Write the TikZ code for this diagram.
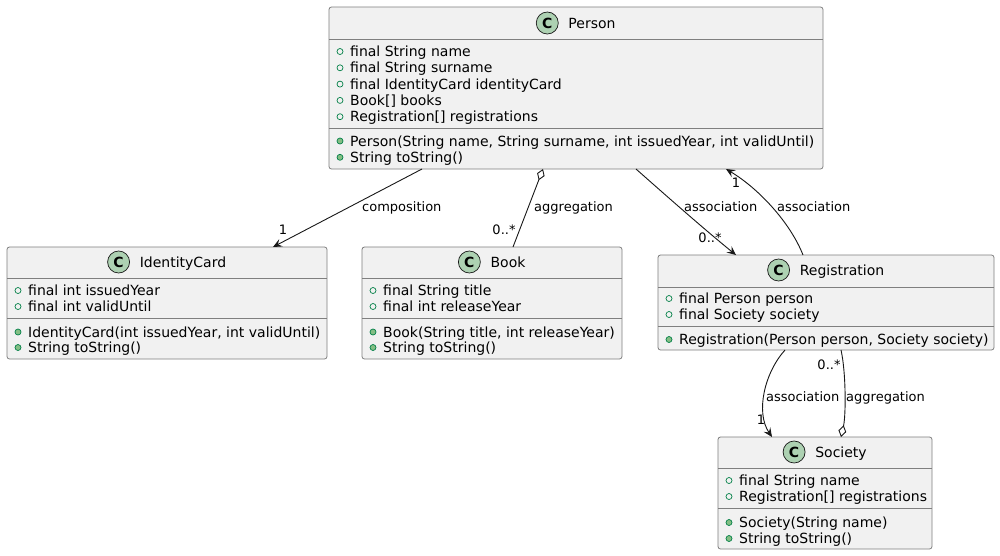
\documentclass[tikz,border=0pt]{standalone}
\usepackage{fontspec}
\setmainfont{DejaVu Sans}
\usetikzlibrary{arrows.meta}
\definecolor{boxfill}{HTML}{F1F1F1}
\definecolor{boxline}{HTML}{7F7F7F}
\definecolor{connline}{HTML}{181818}
\definecolor{spotfill}{HTML}{ADD1B2}
\definecolor{visline}{HTML}{038048}
\definecolor{visfill}{HTML}{84BE84}
\newcommand\myattr[4]{%
  \draw[attrvis] ({#2+11},{#3+0.5}) circle[radius=3pt];
  \node[mem] (#1) at ({#2+21},{#3+5.5}) {#4};}
\newcommand\mymeth[4]{%
  \draw[methvis] ({#2+11},{#3+0.5}) circle[radius=3pt];
  \node[mem] (#1) at ({#2+21},{#3+5.5}) {#4};}
\newcommand\mytitle[4]{%
  \node[titletext] (#1) at ({#2+16},{#3+5}) {#4};
  \node[spot] (#1C) at ([xshift=-21pt,yshift=5pt]#1.base west) {C};}
\begin{document}
\begin{tikzpicture}[x=1pt,y=-1pt,
  classbox/.style={draw=boxline, fill=boxfill, line width=0.8pt, rounded corners=2.5pt, anchor=north west, inner sep=0pt, outer sep=0pt},
  sepline/.style={draw=boxline, line width=0.8pt},
  titletext/.style={font=\fontsize{14}{16}\selectfont, anchor=base, inner sep=0pt},
  spot/.style={circle, draw=connline, fill=spotfill, line width=0.7pt, minimum size=22pt, inner sep=0pt, font=\fontsize{14}{16}\selectfont\bfseries},
  mem/.style={font=\fontsize{14}{16}\selectfont, anchor=base west, inner sep=0pt},
  attrvis/.style={draw=visline, line width=0.7pt},
  methvis/.style={draw=visline, fill=visfill, line width=0.7pt},
  conn/.style={draw=connline, line width=0.9pt},
  lbl/.style={font=\fontsize{13}{15}\selectfont, inner sep=0pt, text height=9.5pt, text depth=2.5pt},
  arr/.style={-{Stealth[length=9pt,width=8pt,inset=3.5pt]}},
  agg/.style={{Diamond[fill=white,length=12pt,width=8pt]}-}
]
\fill[white] (0,0) rectangle (1000,555);
\useasboundingbox (0,0) rectangle (1000,555);

% ---------- Person ----------
\node[classbox, minimum width=494pt, minimum height=162pt] (person) at (329,7) {};
\draw[sepline] (person.west |- 0,39) -- (person.east |- 0,39);
\draw[sepline] (person.west |- 0,128) -- (person.east |- 0,128);
\mytitle{pt}{576}{23}{Person}
\myattr{pa1}{329}{51}{final String name}
\myattr{pa2}{329}{67.3}{final String surname}
\myattr{pa3}{329}{83.6}{final IdentityCard identityCard}
\myattr{pa4}{329}{99.9}{Book[] books}
\myattr{pa5}{329}{116.2}{Registration[] registrations}
\mymeth{pm1}{329}{140.5}{Person(String name, String surname, int issuedYear, int validUntil)}
\mymeth{pm2}{329}{156.8}{String toString()}

% ---------- IdentityCard ----------
\node[classbox, minimum width=320pt, minimum height=112pt] (idcard) at (7,247) {};
\draw[sepline] (idcard.west |- 0,278) -- (idcard.east |- 0,278);
\draw[sepline] (idcard.west |- 0,318) -- (idcard.east |- 0,318);
\mytitle{it}{167}{262}{IdentityCard}
\myattr{ia1}{7}{290}{final int issuedYear}
\myattr{ia2}{7}{306}{final int validUntil}
\mymeth{im1}{7}{331.5}{IdentityCard(int issuedYear, int validUntil)}
\mymeth{im2}{7}{347}{String toString()}

% ---------- Book ----------
\node[classbox, minimum width=260pt, minimum height=112pt] (book) at (362,247) {};
\draw[sepline] (book.west |- 0,278) -- (book.east |- 0,278);
\draw[sepline] (book.west |- 0,318) -- (book.east |- 0,318);
\mytitle{bt}{492}{262}{Book}
\myattr{ba1}{362}{290}{final String title}
\myattr{ba2}{362}{306}{final int releaseYear}
\mymeth{bm1}{362}{331.5}{Book(String title, int releaseYear)}
\mymeth{bm2}{362}{347}{String toString()}

% ---------- Registration ----------
\node[classbox, minimum width=336pt, minimum height=95pt] (reg) at (658,255) {};
\draw[sepline] (reg.west |- 0,287) -- (reg.east |- 0,287);
\draw[sepline] (reg.west |- 0,326) -- (reg.east |- 0,326);
\mytitle{rt}{826}{270}{Registration}
\myattr{ra1}{658}{298}{final Person person}
\myattr{ra2}{658}{314}{final Society society}
\mymeth{rm1}{658}{339}{Registration(Person person, Society society)}

% ---------- Society ----------
\node[classbox, minimum width=214pt, minimum height=112pt] (society) at (718,437) {};
\draw[sepline] (society.west |- 0,468) -- (society.east |- 0,468);
\draw[sepline] (society.west |- 0,508) -- (society.east |- 0,508);
\mytitle{st}{825}{452}{Society}
\myattr{sa1}{718}{480}{final String name}
\myattr{sa2}{718}{496}{Registration[] registrations}
\mymeth{sm1}{718}{522}{Society(String name)}
\mymeth{sm2}{718}{538}{String toString()}

% ---------- connectors ----------
\draw[conn, arr] ([xshift=93pt]person.south west) -- ([xshift=266pt]idcard.north west);
\draw[conn, agg] ([xshift=214pt]person.south west) -- ([xshift=151pt]book.north west);
\draw[conn, arr] ([xshift=307pt]person.south west) .. controls (662,192) and (705,230) .. ([xshift=78pt]reg.north west);
\draw[conn, arr] ([xshift=145pt]reg.north west) .. controls (790,222) and (758,188) .. ([xshift=397pt]person.south west);
\draw[conn, arr] ([xshift=127pt]reg.south west) .. controls (765,372) and (755,412) .. ([xshift=54pt]society.north west);
\draw[conn, agg] ([xshift=123pt]society.north west) .. controls (846,415) and (846,372) .. ([xshift=183pt]reg.south west);

% ---------- labels ----------
\node[lbl, anchor=west] (l1) at (362,208) {composition};
\node[lbl] (m1) at (283,231) {1};
\node[lbl, anchor=west] (l2) at (534,208) {aggregation};
\node[lbl] (m2) at (504,231) {0..*};
\node[lbl, anchor=west] (l3) at (684,208) {association};
\node[lbl] (m3) at (710,239) {0..*};
\node[lbl, anchor=west] (l4) at (777,208) {association};
\node[lbl] (m4) at (736,184) {1};
\node[lbl, anchor=west] (l5) at (766,398) {association};
\node[lbl] (m5) at (761,421) {1};
\node[lbl, anchor=west] (l6) at (846,398) {aggregation};
\node[lbl] (m6) at (829,366) {0..*};
\end{tikzpicture}
\end{document}
